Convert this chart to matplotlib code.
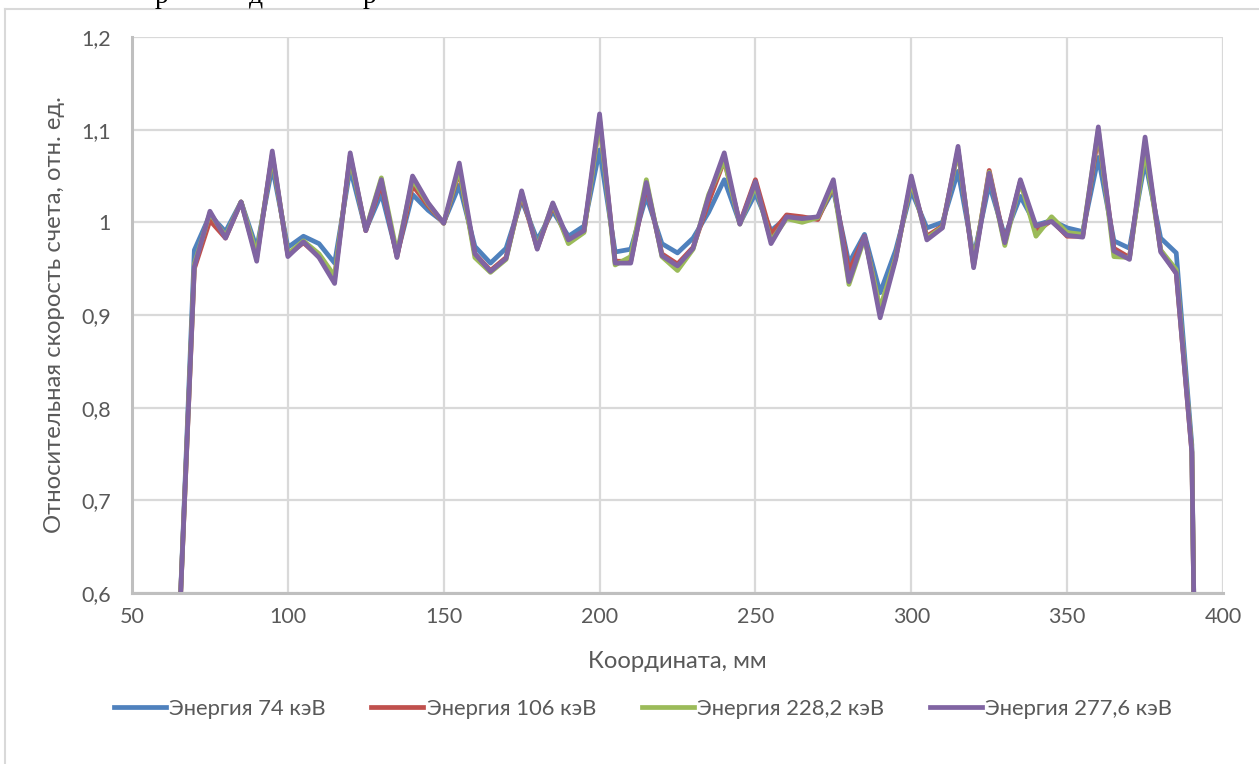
import matplotlib
matplotlib.use("Agg")
import matplotlib.pyplot as plt
from matplotlib.ticker import FuncFormatter, MultipleLocator
from matplotlib.lines import Line2D

plt.rcParams['font.family'] = ['Lato', 'DejaVu Sans']

# ---------------- data ----------------
coord = [65, 70, 75, 80, 85, 90, 95, 100, 105, 110, 115, 120, 125, 130, 135, 140,
         145, 150, 155, 160, 165, 170, 175, 180, 185, 190, 195, 200, 205, 210,
         215, 220, 225, 230, 235, 240, 245, 250, 255, 260, 265, 270, 275, 280,
         285, 290, 295, 300, 305, 310, 315, 320, 325, 330, 335, 340, 345, 350,
         355, 360, 365, 370, 375, 380, 385, 390, 391]

e74 = [0.55, 0.970, 1.008, 0.990, 1.022, 0.972, 1.060, 0.973, 0.985, 0.977, 0.956,
       1.058, 0.992, 1.031, 0.965, 1.030, 1.013, 1.000, 1.040, 0.974, 0.956, 0.972,
       1.024, 0.981, 1.012, 0.985, 0.996, 1.078, 0.968, 0.971, 1.028, 0.977, 0.967,
       0.983, 1.011, 1.046, 0.999, 1.031, 0.991, 1.005, 1.004, 1.005, 1.035, 0.956,
       0.987, 0.924, 0.970, 1.034, 0.994, 1.000, 1.055, 0.963, 1.041, 0.985, 1.028,
       0.997, 1.002, 0.994, 0.990, 1.070, 0.980, 0.972, 1.066, 0.983, 0.967, 0.760,
       0.50]

e106 = [0.55, 0.950, 1.002, 0.983, 1.022, 0.962, 1.073, 0.965, 0.978, 0.963, 0.940,
        1.072, 0.991, 1.042, 0.963, 1.040, 1.018, 0.999, 1.055, 0.966, 0.948, 0.962,
        1.030, 0.972, 1.018, 0.980, 0.990, 1.110, 0.958, 0.958, 1.040, 0.966, 0.955,
        0.973, 1.022, 1.067, 0.999, 1.046, 0.987, 1.008, 1.006, 1.003, 1.040, 0.947,
        0.985, 0.905, 0.962, 1.045, 0.985, 0.996, 1.078, 0.953, 1.056, 0.978, 1.044,
        0.990, 1.002, 0.985, 0.985, 1.095, 0.972, 0.962, 1.085, 0.970, 0.945, 0.752,
        0.50]

e228 = [0.55, 0.955, 1.010, 0.985, 1.022, 0.965, 1.072, 0.966, 0.980, 0.966, 0.942,
        1.070, 0.992, 1.048, 0.967, 1.046, 1.020, 0.999, 1.058, 0.962, 0.946, 0.960,
        1.032, 0.973, 1.020, 0.977, 0.989, 1.110, 0.954, 0.963, 1.046, 0.963, 0.948,
        0.971, 1.030, 1.067, 0.998, 1.040, 0.980, 1.004, 1.000, 1.005, 1.041, 0.933,
        0.983, 0.907, 0.962, 1.045, 0.983, 0.995, 1.078, 0.955, 1.054, 0.975, 1.044,
        0.985, 1.006, 0.989, 0.987, 1.100, 0.963, 0.962, 1.079, 0.970, 0.949, 0.755,
        0.50]

e277 = [0.55, 0.952, 1.012, 0.983, 1.022, 0.958, 1.077, 0.963, 0.979, 0.962, 0.934,
        1.075, 0.991, 1.046, 0.962, 1.050, 1.021, 0.999, 1.064, 0.966, 0.947, 0.961,
        1.034, 0.971, 1.021, 0.981, 0.991, 1.117, 0.956, 0.956, 1.043, 0.964, 0.953,
        0.972, 1.028, 1.075, 0.998, 1.044, 0.977, 1.006, 1.004, 1.006, 1.046, 0.936,
        0.985, 0.897, 0.960, 1.050, 0.981, 0.994, 1.082, 0.951, 1.053, 0.978, 1.046,
        0.996, 1.001, 0.986, 0.984, 1.103, 0.969, 0.960, 1.092, 0.968, 0.945, 0.752,
        0.50]

series_labels = ["Энергия 74 кэВ", "Энергия 106 кэВ", "Энергия 228,2 кэВ", "Энергия 277,6 кэВ"]
series_colors = ["#4F81BD", "#C0504D", "#9BBB59", "#8064A2"]

x_label = "Координата, мм"
y_label = "Относительная скорость счета, отн. ед."

# ---------------- figure ----------------
W, H = 1259, 764
fig = plt.figure(figsize=(W / 100, H / 100), dpi=100)
fig.patch.set_facecolor("white")

L, R, T, B = 132, 1223, 37, 593
ax = fig.add_axes([L / W, 1 - B / H, (R - L) / W, (B - T) / H])

text_col = "#595959"
grid_col = "#D9D9D9"
axis_col = "#BFBFBF"

for vals, lab, col in zip([e74, e106, e228, e277], series_labels, series_colors):
    ax.plot(coord, vals, color=col, lw=3.4, label=lab, solid_joinstyle="round",
            solid_capstyle="round", clip_on=True)

ax.set_xlim(50, 400)
ax.set_ylim(0.6, 1.2)
ax.xaxis.set_major_locator(MultipleLocator(50))
ax.yaxis.set_major_locator(MultipleLocator(0.1))


def comma_fmt(v, pos):
    s = ("%.1f" % v).rstrip("0").rstrip(".")
    return s.replace(".", ",")


ax.yaxis.set_major_formatter(FuncFormatter(comma_fmt))
ax.xaxis.set_major_formatter(FuncFormatter(lambda v, p: "%d" % v))

ax.grid(True, color=grid_col, lw=1.6)
ax.set_axisbelow(True)
for side in ["top", "right"]:
    ax.spines[side].set_visible(False)
ax.spines["left"].set_color(axis_col)
ax.spines["left"].set_linewidth(2.2)
ax.spines["bottom"].set_color(axis_col)
ax.spines["bottom"].set_linewidth(2.2)
ax.tick_params(length=0, labelsize=15.5, colors=text_col)
ax.tick_params(axis="y", pad=15)
ax.tick_params(axis="x", pad=10)

ax.set_xlabel(x_label, fontsize=17.2, color=text_col)
ax.set_ylabel(y_label, fontsize=17.2, color=text_col)
ax.xaxis.set_label_coords((677 - L) / (R - L), (B - 662) / (B - T))
ax.yaxis.set_label_coords((55 - L) / (R - L), 0.5)
ax.xaxis.label.set_va("center")
ax.yaxis.label.set_va("center")

handles = [Line2D([0], [0], color=c, lw=3.4) for c in series_colors]
leg = fig.legend(handles, series_labels, loc="center", ncol=4, frameon=False,
                 bbox_to_anchor=(643 / W, 1 - 709 / H), fontsize=15.8,
                 handlelength=2.37, handletextpad=0.14, columnspacing=2.1)
for t in leg.get_texts():
    t.set_color(text_col)

# chart area border (partially visible)
fig.add_artist(Line2D([5 / W, 5 / W], [0, 1 - 9 / H], transform=fig.transFigure,
                      color=grid_col, lw=1.5))
fig.add_artist(Line2D([5 / W, 1], [1 - 9 / H, 1 - 9 / H], transform=fig.transFigure,
                      color=grid_col, lw=1.5))

# cut-off document text above the chart
for gx, ch in [(162, "р"), (256, "д"), (370, "р")]:
    fig.text(gx / W, 1 - 3 / H, ch, ha="center", va="baseline", fontsize=20,
             family="Liberation Serif", color="black")

fig.savefig("out.png", dpi=100, facecolor="white")
